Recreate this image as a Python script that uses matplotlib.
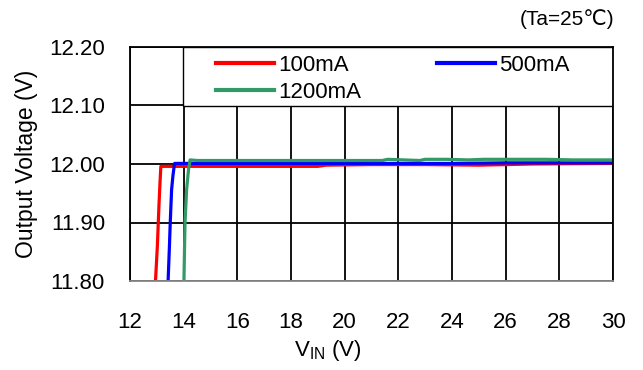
import matplotlib.pyplot as plt
from matplotlib.patches import Rectangle
from matplotlib.ticker import MultipleLocator

plt.rcParams["font.family"] = ["Liberation Sans", "DejaVu Sans"]

# output voltage vs input voltage for three load currents
red_x = [12.95, 13.02, 13.08, 13.12, 13.15, 13.4, 15.0, 17.0, 19.0, 19.3, 21.0, 23.0, 25.0, 27.0, 30.0]
red_y = [11.80, 11.86, 11.93, 11.97, 11.996, 11.996, 11.996, 11.996, 11.996, 11.998, 11.999, 11.999, 11.998, 12.000, 12.001]

blue_x = [13.42, 13.47, 13.50, 13.55, 13.60, 13.66, 14.0, 16.0, 18.0, 20.0, 22.0, 24.0, 26.0, 28.0, 30.0]
blue_y = [11.80, 11.86, 11.90, 11.956, 11.98, 12.001, 12.001, 12.001, 12.001, 12.001, 12.001, 12.001, 12.002, 12.002, 12.002]

green_x = [14.01, 14.05, 14.11, 14.18, 14.24, 14.5, 16.0, 18.0, 21.4, 21.6, 22.8, 23.0, 23.8, 24.6, 25.2, 26.0, 27.5, 28.5, 30.0]
green_y = [11.80, 11.90, 11.956, 11.99, 12.007, 12.006, 12.006, 12.006, 12.006, 12.008, 12.006, 12.008, 12.008, 12.007, 12.008, 12.008, 12.008, 12.007, 12.007]

series = [
    ("100mA", red_x, red_y, "#ff0000"),
    ("500mA", blue_x, blue_y, "#0000ff"),
    ("1200mA", green_x, green_y, "#339966"),
]

fig = plt.figure(figsize=(6.43, 3.70), dpi=100)
ax = fig.add_axes([130 / 643, 1 - 281 / 370, 483 / 643, 234 / 370])

handles = {}
for label, xs, ys, c in series:
    handles[label], = ax.plot(xs, ys, color=c, lw=2.3, label=label)

ax.set_xlim(12, 30)
ax.set_ylim(11.80, 12.20)
ax.xaxis.set_major_locator(MultipleLocator(2))
ax.yaxis.set_major_locator(MultipleLocator(0.1))
ax.yaxis.set_major_formatter(plt.FormatStrFormatter("%.2f"))
ax.grid(True, color="black", lw=1.3)
ax.set_axisbelow(True)
ax.tick_params(axis="y", length=0, labelsize=16, pad=18)
ax.tick_params(axis="x", length=0, labelsize=16, pad=22)
for s in ax.spines.values():
    s.set_color("black")
    s.set_linewidth(1.3)
ax.spines["bottom"].set_color("#888888")

ax.set_ylabel("Output Voltage (V)", fontsize=16.5, labelpad=8)
ax.set_xlabel(r"V$_{\mathregular{IN}}$ (V)", fontsize=16)
ax.xaxis.set_label_coords((328 - 130) / 483, (281 - 338) / 234)

fig.text(567 / 643, 1 - 19 / 370, "(Ta=25\u2103)", fontsize=15, ha="center", va="center")

# legend box sits on top of the grid, flush with the plot's top-right corner
box = Rectangle((53 / 483, 1 - 59 / 234), 430 / 483, 59 / 234, transform=ax.transAxes,
                facecolor="white", edgecolor="black", lw=1.0, zorder=1.5)
ax.add_patch(box)

order = ["100mA", "1200mA", "500mA"]
leg = ax.legend([handles[k] for k in order], order, ncol=2, loc="upper left",
                bbox_to_anchor=((216 - 130) / 483, 1 - 8 / 234),
                frameon=False, borderaxespad=0, borderpad=0, fontsize=16,
                handlelength=2.6, handletextpad=0.2, labelspacing=0.25,
                columnspacing=3.4)
for line in leg.get_lines():
    line.set_linewidth(3)

fig.savefig("out.png", dpi=100)
